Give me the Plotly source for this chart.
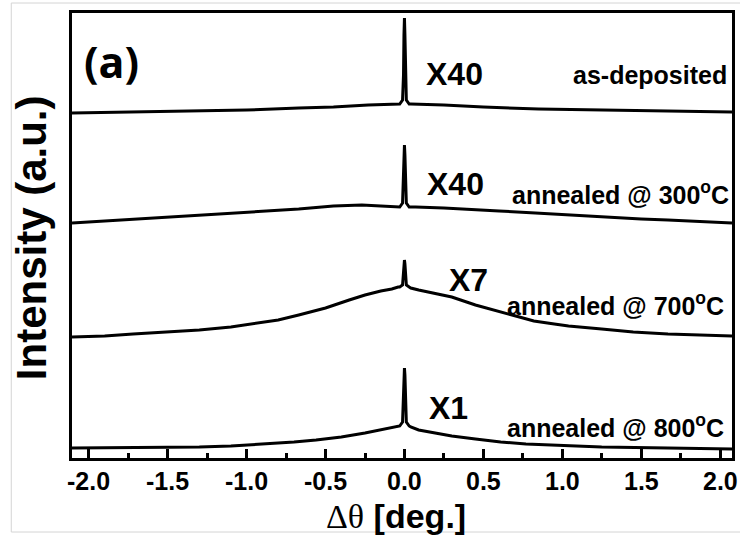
import plotly.graph_objects as go

# Rocking-curve scans (offset vertically for clarity), intensity in arbitrary units
x_asdep = [-2.107, -1.7, -1.3, -1.0, -0.67, -0.45, -0.23, -0.04, -0.03, -0.012, -0.006,
           -0.003, 0.0, 0.003, 0.006, 0.012, 0.03, 0.04, 0.25, 0.5, 0.85, 1.22, 1.65, 2.076]
i_asdep = [347, 348, 349, 350, 352, 353, 355, 356, 356, 360, 385,
           425, 442, 425, 385, 360, 356, 356, 355, 353, 351, 350, 349, 348]

x_300 = [-2.107, -1.7, -1.3, -1.0, -0.67, -0.45, -0.27, -0.15, -0.06, -0.03, -0.012, -0.006,
         -0.003, 0.0, 0.003, 0.006, 0.012, 0.03, 0.07, 0.25, 0.4, 0.6, 0.83, 1.05, 1.25,
         1.5, 1.67, 1.9, 2.076]
i_300 = [237, 241, 245, 248, 251, 254, 255, 254, 253, 253, 257, 280,
         305, 315, 305, 280, 257, 253, 253, 252, 251, 249, 247, 245, 243,
         241, 240, 238, 237]

x_700 = [-2.107, -1.9, -1.72, -1.5, -1.3, -1.1, -0.98, -0.8, -0.67, -0.5, -0.35, -0.25,
         -0.15, -0.08, -0.04, -0.03, -0.012, -0.006, -0.003, 0.0, 0.003, 0.006, 0.012,
         0.03, 0.04, 0.09, 0.2, 0.3, 0.45, 0.57, 0.7, 0.82, 0.95, 1.04, 1.25, 1.45, 1.67,
         1.87, 2.076]
i_700 = [123, 124, 126, 128, 130, 133, 136, 140, 145, 152, 160, 165,
         169, 171, 173, 173, 175, 186, 196, 200, 196, 186, 175,
         173, 172, 170, 166, 163, 155, 150, 144, 139, 136, 134, 131, 128, 126,
         125, 124]

x_800 = [-2.107, -1.7, -1.3, -1.1, -0.88, -0.7, -0.56, -0.4, -0.25, -0.15, -0.08, -0.04,
         -0.03, -0.012, -0.006, -0.003, 0.0, 0.003, 0.006, 0.012, 0.03, 0.04, 0.09, 0.2,
         0.3, 0.45, 0.61, 0.77, 0.93, 1.25, 1.67, 2.076]
i_800 = [12, 12.5, 13, 14, 16, 18, 20, 23, 27, 30, 32, 33,
         34, 38, 60, 85, 92, 85, 60, 38, 34, 33, 30, 27,
         24, 21, 18, 16, 15, 13, 12, 11]

series = [(x_asdep, i_asdep), (x_300, i_300), (x_700, i_700), (x_800, i_800)]

tick_vals = [-2.0, -1.5, -1.0, -0.5, 0.0, 0.5, 1.0, 1.5, 2.0]
tick_text = ["-2.0", "-1.5", "-1.0", "-0.5", "0.0", "0.5", "1.0", "1.5", "2.0"]

scale_labels = ["X40", "X40", "X7", "X1"]
sample_labels = ["as-deposited", "annealed @ 300<sup>o</sup>C",
                 "annealed @ 700<sup>o</sup>C", "annealed @ 800<sup>o</sup>C"]

W, H = 740, 535
L, R, T, B = 72, 5, 13, 77
PW, PH = W - L - R, H - T - B


def px(xp):
    return (xp - L) / PW


def py(yp):
    return (H - B - yp) / PH


ARIAL = "Liberation Sans"

fig = go.Figure()
for xs, ys in series:
    fig.add_trace(go.Scatter(x=xs, y=ys, mode="lines",
                             line=dict(color="black", width=3),
                             showlegend=False, hoverinfo="skip"))

ann = []
ann.append(dict(text="<b>(a)</b>", x=px(112), y=py(62), xref="paper", yref="paper",
                showarrow=False, xanchor="center", yanchor="middle",
                font=dict(family="Open Sans", size=43, color="black")))

scale_pos = [(456, 74), (457, 184), (470, 280), (450, 408)]
for lab, (xp, yp) in zip(scale_labels, scale_pos):
    ann.append(dict(text="<b>%s</b>" % lab, x=px(xp), y=py(yp), xref="paper", yref="paper",
                    showarrow=False, xanchor="center", yanchor="middle",
                    font=dict(family=ARIAL, size=32, color="black")))

sample_pos = [(732, 75), (734, 193), (729, 304), (729, 426)]
for lab, (xp, yp) in zip(sample_labels, sample_pos):
    ann.append(dict(text="<b>%s</b>" % lab, x=px(xp), y=py(yp), xref="paper", yref="paper",
                    showarrow=False, xanchor="right", yanchor="middle",
                    font=dict(family=ARIAL, size=25, color="black")))

# x tick labels, set just below the bottom axis line
for tv, tt in zip(tick_vals, tick_text):
    ann.append(dict(text="<b>%s</b>" % tt, x=tv, y=py(481), xref="x", yref="paper",
                    showarrow=False, xanchor="center", yanchor="middle",
                    font=dict(family=ARIAL, size=25, color="black")))

ann.append(dict(text="<b>Intensity (a.u.)</b>", x=px(31), y=py(238), xref="paper", yref="paper",
                showarrow=False, xanchor="center", yanchor="middle", textangle=-90,
                font=dict(family=ARIAL, size=42, color="black")))

ann.append(dict(text='<span style="font-family:Liberation Serif;font-weight:normal">Δθ</span> <b>[deg.]</b>',
                x=px(397), y=py(516), xref="paper", yref="paper",
                showarrow=False, xanchor="center", yanchor="middle",
                font=dict(family=ARIAL, size=34, color="black")))

fig.update_layout(
    width=W, height=H,
    margin=dict(l=L, r=R, t=T, b=B),
    paper_bgcolor="white", plot_bgcolor="white",
    annotations=ann,
    shapes=[dict(type="rect", xref="paper", yref="paper",
                 x0=px(11), x1=px(745), y0=py(532), y1=py(3),
                 line=dict(color="#d4d4d4", width=1), layer="below")],
)

fig.update_xaxes(range=[-2.107, 2.076], showgrid=False, zeroline=False,
                 showline=True, linecolor="black", linewidth=3, mirror=True,
                 tickmode="array", tickvals=tick_vals, ticktext=tick_text,
                 showticklabels=False,
                 ticks="inside", ticklen=9, tickwidth=3, tickcolor="black",
                 minor=dict(dtick=0.25, tick0=0, ticks="inside", ticklen=5,
                            tickwidth=3, tickcolor="black"))
fig.update_yaxes(range=[2, 447], showgrid=False, zeroline=False,
                 showline=True, linecolor="black", linewidth=3, mirror=True,
                 showticklabels=False, ticks="")

fig.write_html("out.html")
